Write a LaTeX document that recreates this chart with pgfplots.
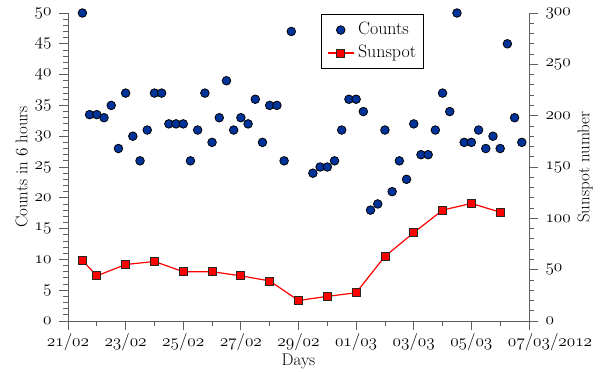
\documentclass[border=0pt]{standalone}
\usepackage{pgfplots}
\pgfplotsset{compat=1.18}

\definecolor{countblue}{RGB}{0,51,153}
\definecolor{axisgray}{RGB}{95,95,95}

% old-style figures from the math italic font; slot "3D holds its slash
\newcommand\osn{\usefont{OML}{lmm}{m}{it}}
\newcommand\sls{\char"3D\relax}
\newcommand\tickfont{\fontsize{17}{20}\selectfont\osn}
\newcommand\labfont{\fontsize{17}{20}\selectfont}
\newcommand\legfont{\fontsize{18}{21}\selectfont}

\pgfplotsset{
  base/.style={
    scale only axis, width=461bp, height=308bp,
    at={(0,0)}, anchor=south west,
    xmin=0, xmax=16, clip=false,
    axis line style={axisgray, line width=0.8bp},
    tick style={axisgray, line width=0.8bp},
    major tick length=9bp, minor tick length=5bp,
    tick align=outside,
    ticklabel style={font=\tickfont, text=black},
    /pgf/number format/assume math mode=true,
    label style={font=\labfont, text=black},
  },
}

\begin{document}
\begin{tikzpicture}
\path[use as bounding box] (-68bp,-51bp) rectangle (532bp,321bp);

% counts per 6 hours (left scale)
\begin{axis}[base,
  axis x line*=bottom, axis y line*=left,
  ymin=0, ymax=50, ytick={0,5,...,50}, minor y tick num=4,
  yticklabel style={xshift=-4bp},
  xtick={0,2,...,16}, minor x tick num=1,
  xticklabels={21\sls 02, 23\sls 02, 25\sls 02, 27\sls 02, 29\sls 02,
               01\sls 03, 03\sls 03, 05\sls 03, 07\sls 03\rlap{\sls 2012}},
  xlabel={Days},
  xlabel style={at={(axis description cs:0.5,-0.13)}, anchor=center},
  ylabel={Counts in {\osn 6} hours},
  ylabel style={at={(axis description cs:-0.1009,0.5)}, anchor=center},
]
\addplot[only marks, mark=*, mark size=4.3bp,
  mark options={fill=countblue, draw=black, line width=0.8bp}]
  coordinates {
  (0.5,50) (0.75,33.5) (1,33.5) (1.25,33) (1.5,35) (1.75,28) (2,37)
  (2.25,30) (2.5,26) (2.75,31) (3,37) (3.25,37) (3.5,32) (3.75,32)
  (4,32) (4.25,26) (4.5,31) (4.75,37) (5,29) (5.25,33) (5.5,39)
  (5.75,31) (6,33) (6.25,32) (6.5,36) (6.75,29) (7,35) (7.25,35)
  (7.5,26) (7.75,47)
  (8.5,24) (8.75,25) (9,25) (9.25,26) (9.5,31) (9.75,36) (10,36)
  (10.25,34) (10.5,18) (10.75,19) (11,31) (11.25,21) (11.5,26)
  (11.75,23) (12,32) (12.25,27) (12.5,27) (12.75,31) (13,37)
  (13.25,34) (13.5,50) (13.75,29) (14,29) (14.25,31) (14.5,28)
  (14.75,30) (15,28) (15.25,45) (15.5,33) (15.75,29)
  };
\end{axis}

% daily sunspot number (right scale)
\begin{axis}[base,
  axis y line*=right, axis x line=none,
  ymin=0, ymax=300, ytick={0,50,...,300}, minor y tick num=4,
  yticklabel style={xshift=4bp},
  ylabel={Sunspot number},
  ylabel style={at={(axis description cs:1.1215,0.5)}, anchor=center},
  legend style={at={(axis description cs:0.549,0.997)}, anchor=north west,
    draw=black, line width=0.7bp, fill=white, font=\legfont,
    inner xsep=5.7bp, inner ysep=7bp, column sep=2.7bp, row sep=5.5bp,
    nodes={inner sep=1bp, text height=12bp, text depth=3.5bp},
    cells={anchor=west}},
  legend image code/.code={
    \draw[mark repeat=2, mark phase=2, #1]
      plot coordinates {(0bp,0bp) (13bp,0bp) (26bp,0bp)};},
]
\addlegendimage{only marks, mark=*, mark size=4.3bp,
  mark options={fill=countblue, draw=black, line width=0.8bp}}
\addlegendentry{Counts}
\addplot[red, line width=1.2bp, mark=square*, mark size=4bp,
  mark options={fill=red, draw=black!85, line width=0.8bp, solid}]
  coordinates {
  (0.5,59) (1,44) (2,55) (3,58) (4,48) (5,48) (6,44) (7,39)
  (8,20) (9,24) (10,27.5) (11,63) (12,86) (13,108) (14,114.5) (15,106)
  };
\addlegendentry{Sunspot}
\end{axis}
\end{tikzpicture}
\end{document}
